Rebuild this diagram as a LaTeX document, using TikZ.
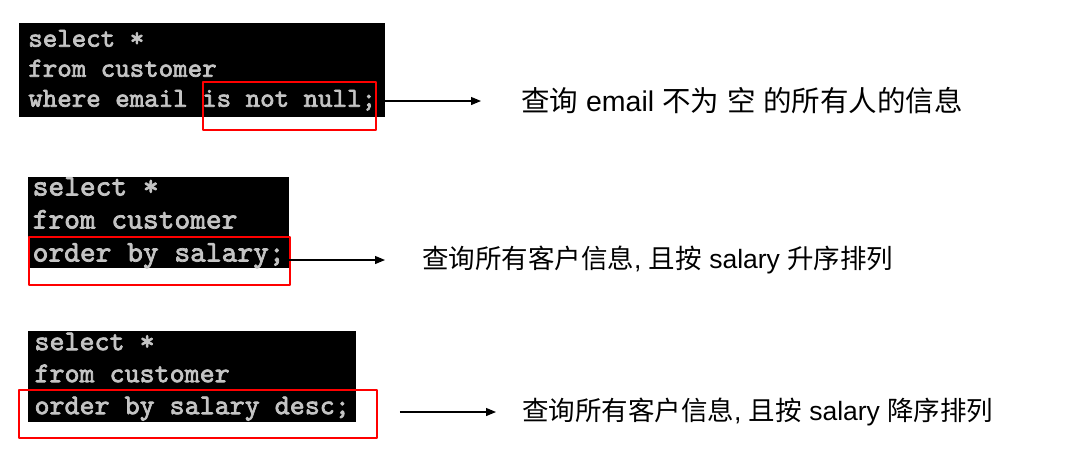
\documentclass[tikz,border=0pt]{standalone}
\usepackage{fontspec}
\setmainfont{Liberation Sans}
\newfontfamily\cjk{Noto Sans CJK SC}
\newfontfamily\codefont{lmmono10-regular.otf}[FakeBold=2.5]
\usetikzlibrary{arrows.meta}
\definecolor{codegray}{RGB}{196,196,196}
\tikzset{
  codebox/.style={fill=black, text=codegray, anchor=north west, align=left,
    inner ysep=0pt},
  hilite/.style={draw=red, line width=1.8pt, anchor=north west, inner sep=0pt},
  desc/.style={anchor=west, inner sep=0pt},
  arr/.style={->, line width=1.2pt},
}
\begin{document}
\begin{tikzpicture}[x=1pt, y=-1pt, >={Stealth[length=10pt,width=8pt,inset=0pt]}, line join=round]
\useasboundingbox (0,0) rectangle (1080,464);
% code boxes
\node[codebox, inner xsep=9pt, minimum width=366pt, minimum height=94pt,
  font=\codefont\fontsize{27.6}{30}\selectfont] (code1) at (19,23)
  {select *\\from customer\\where email is not null;};
\node[codebox, inner xsep=4pt, minimum width=261pt, minimum height=91pt,
  font=\codefont\fontsize{30}{33}\selectfont] (code2) at (28,177)
  {select *\\from customer\\order by salary;};
\node[codebox, inner xsep=5pt, minimum width=328pt, minimum height=91pt,
  font=\codefont\fontsize{28.6}{32}\selectfont] (code3) at (28,331)
  {select *\\from customer\\order by salary desc;};
% red marks
\node[hilite, minimum width=173pt, minimum height=48pt] (mark1) at (202,81) {};
\node[hilite, minimum width=261pt, minimum height=48pt] (mark2) at (28,236) {};
\node[hilite, minimum width=358pt, minimum height=48pt] (mark3) at (18,389) {};
% descriptions
\node[desc, font=\fontsize{28.5}{30}\selectfont] (desc1) at (521,101)
  {{\cjk 查询} email {\cjk 不为} {\cjk 空} {\cjk 的所有人的信息}};
\node[desc, font=\fontsize{26.5}{30}\selectfont] (desc2) at (422,260)
  {{\cjk 查询所有客户信息}, {\cjk 且按} salary {\cjk 升序排列}};
\node[desc, font=\fontsize{26.5}{30}\selectfont] (desc3) at (522,412)
  {{\cjk 查询所有客户信息}, {\cjk 且按} salary {\cjk 降序排列}};
% arrows
\draw[arr, shorten >=40pt] (code1.east |- desc1.west) -- (desc1.west);
\draw[arr, shorten >=37pt] (code2.east |- desc2.west) -- (desc2.west);
\draw[arr, shorten <=22pt, shorten >=26pt] (mark3.east |- desc3.west) -- (desc3.west);
\end{tikzpicture}
\end{document}
